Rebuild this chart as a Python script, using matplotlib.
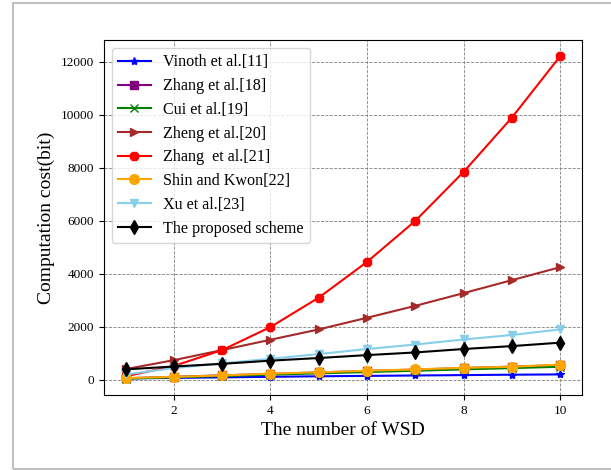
import matplotlib
matplotlib.use("Agg")
import matplotlib.pyplot as plt
from matplotlib.patches import Rectangle

plt.rcParams["font.family"] = ["Liberation Serif", "DejaVu Serif"]

wsd = [1, 2, 3, 4, 5, 6, 7, 8, 9, 10]

vinoth = [50, 70, 90, 110, 130, 145, 160, 175, 190, 200]
zhang18 = [55, 110, 165, 220, 275, 330, 385, 440, 495, 550]
cui = [40, 90, 140, 190, 240, 290, 340, 390, 440, 490]
zheng = [400, 740, 1120, 1510, 1900, 2340, 2790, 3270, 3760, 4250]
zhang21 = [130, 520, 1120, 1990, 3100, 4450, 6000, 7850, 9900, 12220]
shin = [60, 110, 160, 230, 280, 340, 390, 450, 490, 570]
xu = [200, 440, 620, 790, 970, 1160, 1330, 1520, 1690, 1900]
proposed = [390, 500, 600, 720, 820, 930, 1030, 1160, 1270, 1400]

series = [
    ("Vinoth et al.[11]", vinoth, "blue", "*", 6),
    ("Zhang et al.[18]", zhang18, "purple", "s", 6),
    ("Cui et al.[19]", cui, "green", "x", 6),
    ("Zheng et al.[20]", zheng, "brown", ">", 6),
    ("Zhang  et al.[21]", zhang21, "red", "8", 6),
    ("Shin and Kwon[22]", shin, "orange", "o", 7),
    ("Xu et al.[23]", xu, "skyblue", "v", 6),
    ("The proposed scheme", proposed, "black", "d", 7),
]

fig = plt.figure(figsize=(6.11, 4.70), dpi=100)
ax = fig.add_axes([0.170, 0.160, 0.7825, 0.755])

for label, vals, color, marker, ms in series:
    ax.plot(wsd, vals, color=color, marker=marker, markersize=ms, lw=1.5, label=label)

ax.set_xticks([2, 4, 6, 8, 10])
ax.set_yticks([0, 2000, 4000, 6000, 8000, 10000, 12000])
ax.tick_params(labelsize=9.5)
ax.grid(True, linestyle="--", color="gray", lw=0.6)
ax.set_xlabel("The number of WSD", fontsize=14)
ax.set_ylabel("Computation cost(bit)", fontsize=14)
ax.legend(loc="upper left", fontsize=11.6, labelspacing=0.48)

fig.patches.append(Rectangle((13 / 611, 1 / 470), 1.0, 466 / 470, transform=fig.transFigure,
                             fill=False, edgecolor="#c0c0c0", lw=1.5))

fig.savefig("out.png", dpi=100)
